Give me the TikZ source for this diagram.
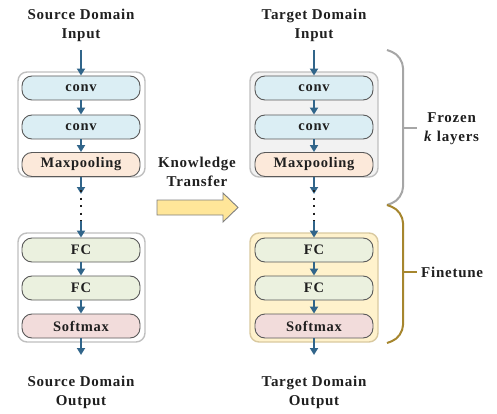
\documentclass[tikz,border=0pt]{standalone}
\usepackage{fontspec}
\setmainfont{Liberation Serif}
\usetikzlibrary{arrows.meta}
\definecolor{convfill}{HTML}{DBEEF4}
\definecolor{poolfill}{HTML}{FCE9DA}
\definecolor{fcfill}{HTML}{EBF1DF}
\definecolor{softfill}{HTML}{F2DCDB}
\definecolor{layerdraw}{HTML}{595959}
\definecolor{groupdraw}{HTML}{BFBFBF}
\definecolor{frozenfill}{HTML}{F2F2F2}
\definecolor{tunefill}{HTML}{FFF2CC}
\definecolor{tunedraw}{HTML}{D9C9A0}
\definecolor{flow}{HTML}{31658A}
\definecolor{kfill}{HTML}{FFE699}
\definecolor{kdraw}{HTML}{7F7F7F}
\definecolor{bracegray}{HTML}{A6A6A6}
\definecolor{bracegold}{HTML}{A6862E}
\definecolor{txt}{HTML}{1F1F1F}
\tikzset{
  lbl/.style={font=\fontsize{15}{19}\selectfont\bfseries\addfontfeature{LetterSpace=5}, text=txt, align=center, inner sep=0pt},
  layer/.style={draw=layerdraw, line width=0.9pt, rounded corners=10pt, minimum width=118pt, minimum height=24pt, inner sep=0pt, font=\fontsize{14.5}{17}\selectfont\bfseries\addfontfeature{LetterSpace=5}, text=txt},
  group/.style={draw=groupdraw, line width=1.4pt, rounded corners=9pt, inner sep=0pt},
  flowarrow/.style={draw=flow, line width=1.8pt, -{Triangle[length=7pt,width=8pt]}},
  dotline/.style={draw=txt, line width=2pt, dash pattern=on 2pt off 5.5pt},
  brace/.style={line width=2pt, rounded corners=12pt},
  karrowstyle/.style={draw=kdraw, fill=kfill, line width=0.9pt, line join=miter}
}
\begin{document}
\begin{tikzpicture}[x=1pt,y=-1pt]
\useasboundingbox (0,0) rectangle (497,414);
% groups
\node[group, fill=white, minimum width=127pt, minimum height=105pt] (gl1) at (81.5,124.5) {};
\node[group, fill=white, minimum width=127pt, minimum height=109pt] (gl2) at (81.5,287.5) {};
\node[group, fill=frozenfill, minimum width=128pt, minimum height=105pt] (gr1) at (314,124.5) {};
\node[group, fill=tunefill, draw=tunedraw, minimum width=128pt, minimum height=109pt] (gr2) at (314,287.5) {};
% left column
\node[lbl] (sin) at (81,25) {Source Domain\\Input};
\node[layer, fill=convfill] (lc1) at (81,88) {conv};
\node[layer, fill=convfill] (lc2) at (81,127) {conv};
\node[layer, fill=poolfill] (lmp) at (81,164.5) {Maxpooling};
\coordinate (la) at (81,194);
\coordinate (lb) at (81,221);
\node[layer, fill=fcfill] (lf1) at (81,250) {FC};
\node[layer, fill=fcfill] (lf2) at (81,288) {FC};
\node[layer, fill=softfill] (lsm) at (81,326) {Softmax};
\node[lbl] (sout) at (81,392) {Source Domain\\Output};
% right column
\node[lbl] (tin) at (314,25) {Target Domain\\Input};
\node[layer, fill=convfill] (rc1) at (314,88) {conv};
\node[layer, fill=convfill] (rc2) at (314,127) {conv};
\node[layer, fill=poolfill] (rmp) at (314,164.5) {Maxpooling};
\coordinate (ra) at (314,194);
\coordinate (rb) at (314,221);
\node[layer, fill=fcfill] (rf1) at (314,250) {FC};
\node[layer, fill=fcfill] (rf2) at (314,288) {FC};
\node[layer, fill=softfill] (rsm) at (314,326) {Softmax};
\node[lbl] (tout) at (314,392) {Target Domain\\Output};
% flow arrows
\foreach \c in {l,r}{
  \draw[flowarrow] (\c c1.north |- 0,50) -- (\c c1.north);
  \draw[flowarrow] (\c c1) -- (\c c2);
  \draw[flowarrow] (\c c2) -- (\c mp);
  \draw[flowarrow] (\c mp) -- (\c a);
  \draw[dotline] ([yshift=4pt]\c a) -- ([yshift=-2pt]\c b);
  \draw[flowarrow] (\c b) -- (\c f1);
  \draw[flowarrow] (\c f1) -- (\c f2);
  \draw[flowarrow] (\c f2) -- (\c sm);
  \draw[flowarrow] (\c sm) -- ++(0,29);
}
% knowledge transfer
\node[lbl] (kt) at (197,172) {Knowledge\\Transfer};
\draw[karrowstyle] (157,200) -- (223,200) -- (223,193) -- (238,207.5) -- (223,222) -- (223,215) -- (157,215) -- cycle;
% braces
\coordinate (b0) at (387,50);
\coordinate (bm) at (387,205);
\coordinate (b1) at (387,343);
\draw[brace, bracegray] (b0) -- (403,56) -- (403,199) -- (bm);
\draw[brace, bracegold] (bm) -- (403,211) -- (403,337) -- (b1);
\draw[bracegray, line width=2pt] (403,128) -- (417,128);
\draw[bracegold, line width=2pt] (403,272) -- (417,272);
\node[lbl, anchor=west] (frz) at (424,129) {Frozen\\\textit{k} layers};
\node[lbl, anchor=west] (ft) at (421,272) {Finetune};
\end{tikzpicture}
\end{document}
